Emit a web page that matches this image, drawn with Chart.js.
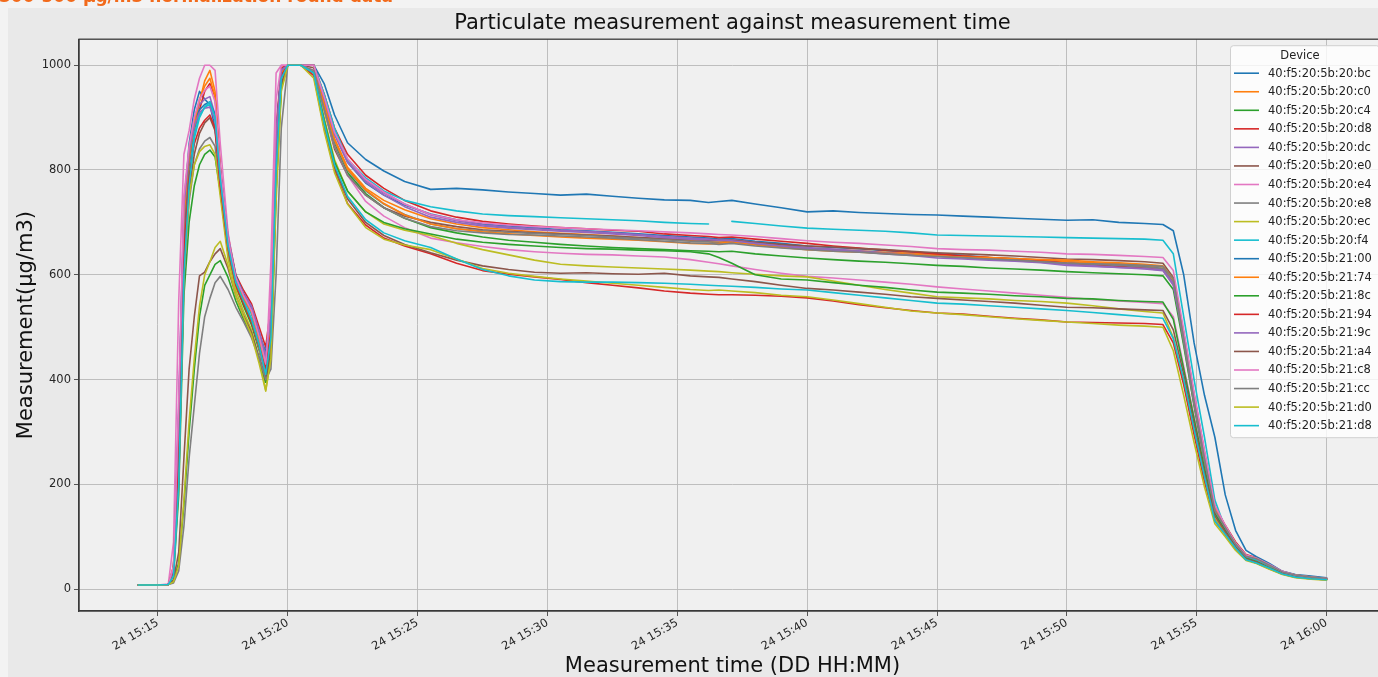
<!DOCTYPE html>
<html><head><meta charset="utf-8">
<script src="https://cdn.jsdelivr.net/npm/chart.js@4.4.1/dist/chart.umd.min.js"></script>
<style>
html,body{margin:0;padding:0;background:#f3f3f3;overflow:hidden;width:1378px;height:677px}
#wrap{position:absolute;left:0;top:0;width:1400px;height:677px}
#note{position:absolute;left:-1px;top:-12px;font:bold 17px "DejaVu Sans",sans-serif;color:#f26a1b;white-space:nowrap;line-height:17px;z-index:2}
</style></head><body>
<div id="wrap"><canvas id="c" width="1400" height="677"></canvas></div>
<div id="note">300-500 μg/m3 normalization round data</div>
<script>
// minutes after 15:00 on day 24
const times = [
14.25,15.0,15.4,15.6,15.8,16.0,16.2,16.4,16.6,16.8,
17.0,17.2,17.4,17.7,18.0,18.3,18.6,18.9,19.15,19.35,
19.55,19.75,20.0,20.5,21.0,21.4,21.8,22.3,23.0,23.7,
24.5,25.5,26.5,27.5,28.5,29.5,30.5,31.5,32.5,33.5,
34.5,35.5,36.2,36.6,37.1,38.0,39.0,40.0,41.0,42.0,
43.0,44.0,45.0,46.0,47.0,48.0,49.0,50.0,51.0,52.0,
53.0,53.7,54.1,54.5,54.9,55.3,55.7,56.1,56.5,56.9,
57.3,57.8,58.3,58.8,59.4,60.0];

const devices = ["40:f5:20:5b:20:bc","40:f5:20:5b:20:c0","40:f5:20:5b:20:c4","40:f5:20:5b:20:d8","40:f5:20:5b:20:dc",
"40:f5:20:5b:20:e0","40:f5:20:5b:20:e4","40:f5:20:5b:20:e8","40:f5:20:5b:20:ec","40:f5:20:5b:20:f4",
"40:f5:20:5b:21:00","40:f5:20:5b:21:74","40:f5:20:5b:21:8c","40:f5:20:5b:21:94","40:f5:20:5b:21:9c",
"40:f5:20:5b:21:a4","40:f5:20:5b:21:c8","40:f5:20:5b:21:cc","40:f5:20:5b:21:d0","40:f5:20:5b:21:d8"];

const d20bc = [8,8,9,35,330,720,850,915,950,935,
925,880,790,660,590,560,530,480,450,520,
870,990,1000,1000,1000,935,870,815,775,752,
733,716,705,697,693,690,686,684,681,678,
675,672,670,668,669,664,660,655,652,650,
646,643,640,637,633,631,628,625,622,619,
616,612,585,480,365,255,150,120,88,64,
58,46,33,27,23,21];
const d20c0 = [8,8,9,45,300,690,820,880,930,970,
990,950,800,650,575,545,515,465,420,490,
840,985,1000,1000,1000,930,860,805,765,742,
724,707,697,690,686,682,679,677,674,671,
668,665,663,662,664,660,655,650,648,646,
643,641,638,636,633,630,628,625,623,621,
618,615,590,475,355,250,152,118,84,62,
57,45,32,26,22,20];
const d20c4 = [8,8,9,25,180,560,700,770,810,830,
838,825,760,640,580,540,505,455,395,450,
780,960,1000,1000,1000,920,850,795,755,728,
708,690,680,672,666,662,658,655,652,650,
648,646,645,644,645,640,636,632,629,626,
624,621,618,616,613,611,609,606,604,602,
600,598,572,465,350,240,145,115,82,60,
55,44,31,25,21,19];
const d20d8 = [8,8,9,40,280,660,800,870,915,950,
965,940,810,675,600,570,545,500,462,540,
880,995,1000,1000,1000,945,880,830,790,765,
742,722,710,702,697,693,690,688,685,683,
678,675,673,671,672,668,664,660,655,651,
647,644,640,636,633,630,627,622,619,616,
613,609,582,490,372,262,158,122,90,66,
60,47,34,27,23,21];
const d20dc = [8,8,9,38,350,740,840,900,925,935,
940,905,790,665,595,565,540,490,440,510,
860,990,1000,1000,1000,940,872,820,780,756,
735,714,703,695,691,688,685,683,680,677,
673,670,668,666,667,662,657,652,649,646,
642,639,636,633,630,627,624,620,617,614,
611,608,580,478,362,252,150,119,86,63,
58,46,33,26,22,20];
const d20e0 = [8,8,9,30,240,620,760,830,870,890,
900,875,770,650,585,550,515,465,415,480,
820,980,1000,1000,995,915,840,790,752,728,
712,700,692,686,683,680,678,676,674,671,
669,667,666,665,666,662,658,655,653,650,
648,645,642,640,638,636,633,630,629,627,
625,622,595,482,360,248,148,116,84,62,
57,45,32,26,22,20];
const d20e4 = [8,8,10,90,550,830,875,935,975,1000,
1000,990,850,680,590,550,515,460,400,625,
985,1000,1000,1000,990,915,845,790,740,712,
690,670,661,654,648,644,641,639,638,636,
634,629,624,621,617,610,603,597,594,590,
586,582,577,573,569,565,561,557,553,550,
547,545,520,425,330,235,145,112,82,60,
54,42,31,25,21,19];
const d20e8 = [8,8,9,28,210,590,740,810,840,855,
862,845,760,645,580,548,512,462,405,470,
800,975,1000,1000,1000,925,855,800,760,735,
715,697,688,684,681,679,677,675,672,669,
667,664,663,661,662,658,654,650,647,644,
641,638,635,632,630,628,625,622,620,618,
615,612,585,470,352,245,147,117,85,62,
57,45,32,26,22,20];
const d20ec = [8,8,9,30,230,600,750,810,835,845,
848,830,750,630,570,530,495,440,380,440,
760,955,1000,1000,985,900,820,760,720,697,
685,675,660,648,638,628,620,617,615,613,
611,609,607,606,604,601,598,596,588,580,
572,565,558,556,554,551,549,546,541,535,
530,527,480,395,300,210,135,108,78,57,
50,39,29,23,20,18];
const d20f4 = [8,8,9,32,260,640,790,870,905,920,
925,905,795,660,590,555,525,475,430,500,
850,985,1000,1000,1000,945,880,820,785,760,
742,730,722,716,713,711,709,707,705,703,
700,698,697,null,702,698,693,689,687,685,
683,680,676,675,674,673,672,671,670,669,
668,666,640,520,400,290,170,116,85,61,
56,45,32,26,22,20];
const d2100 = [8,8,9,36,310,700,830,895,915,925,
930,905,800,670,598,562,535,488,452,520,
865,990,1000,1000,1000,965,905,852,820,798,
778,763,765,762,758,755,752,754,750,746,
743,742,738,740,742,735,728,720,722,719,
717,715,714,712,710,708,706,704,705,700,
698,696,684,600,470,370,290,180,112,74,
62,49,34,28,25,22];
const d2174 = [8,8,9,42,320,710,830,890,935,960,
975,940,795,655,585,555,530,478,425,500,
850,985,1000,1000,1000,928,858,802,762,736,
714,697,688,682,678,675,672,670,668,666,
663,660,659,660,663,657,652,648,645,643,
641,639,636,634,633,631,629,628,625,623,
620,617,592,485,368,258,155,120,87,64,
59,46,33,27,23,20];
const d218c = [8,8,9,15,50,160,300,420,520,580,
600,620,627,595,550,515,485,440,395,450,
760,960,1000,1000,985,895,815,760,720,700,
688,678,668,662,658,655,652,650,649,647,
646,644,640,633,622,600,592,590,585,580,
576,571,567,565,563,560,558,555,554,551,
549,548,515,420,325,230,145,112,80,59,
53,41,30,24,21,19];
const d2194 = [8,8,9,35,260,640,785,850,880,895,
905,880,770,650,580,545,510,462,420,490,
830,980,1000,1000,980,880,800,736,695,670,
655,640,622,608,601,596,591,585,580,575,
569,565,563,562,562,561,559,556,550,543,
537,532,527,525,521,517,514,510,509,508,
507,505,470,390,295,205,130,105,76,56,
50,39,29,23,20,18];
const d219c = [8,8,9,40,340,730,835,885,910,918,
920,895,785,662,592,562,540,492,445,515,
858,990,1000,1000,1000,938,868,815,777,752,
730,710,700,693,689,686,683,681,678,675,
671,668,667,666,665,660,655,650,647,644,
640,637,632,630,628,626,623,618,616,614,
612,609,583,480,362,252,150,118,86,63,
58,46,33,26,22,20];
const d21a4 = [8,8,9,18,70,250,420,520,598,605,
625,640,650,612,560,522,490,440,400,460,
780,965,1000,1000,985,885,805,745,700,675,
658,642,628,617,610,605,603,604,602,601,
603,598,596,595,592,587,580,574,571,567,
563,558,555,552,549,546,542,538,537,535,
533,532,495,410,315,222,140,110,80,58,
52,40,30,24,21,19];
const d21c8 = [8,8,9,44,360,750,845,900,935,952,
960,930,805,670,595,560,532,482,430,560,
935,1000,1000,1000,1000,940,872,822,782,758,
735,715,705,699,695,692,690,688,686,684,
682,680,678,677,676,673,669,665,662,660,
657,654,650,648,647,645,643,640,639,637,
635,633,608,495,375,265,160,122,88,65,
59,47,34,27,23,21];
const d21cc = [8,8,9,12,35,120,250,350,450,520,
555,585,597,572,538,510,480,440,400,420,
600,880,1000,1000,990,915,845,790,752,728,
708,692,684,680,677,676,674,672,670,667,
664,661,660,658,660,655,651,648,645,643,
640,637,635,633,630,628,625,622,621,620,
618,616,592,478,358,248,150,118,86,63,
58,46,33,27,23,21];
const d21d0 = [8,8,9,14,45,170,320,440,540,600,
625,652,664,618,560,520,485,430,378,440,
740,950,1000,1000,975,875,795,735,690,668,
657,648,630,612,603,597,592,588,584,580,
576,572,570,571,569,566,561,558,552,545,
538,531,527,524,520,516,513,510,507,504,
502,500,455,370,280,195,125,100,74,55,
49,38,28,22,19,17];
const d21d8 = [8,8,9,25,200,600,770,860,900,920,
930,900,785,655,585,550,515,465,410,480,
800,975,1000,1000,985,890,810,750,705,680,
665,652,630,610,598,590,587,586,586,585,
584,582,580,579,578,576,573,571,566,561,
556,551,546,544,541,538,535,532,528,524,
520,517,478,400,305,215,130,105,78,56,
50,40,29,23,20,18];

const seriesValues = [d20bc,d20c0,d20c4,d20d8,d20dc,d20e0,d20e4,d20e8,d20ec,d20f4,
                      d2100,d2174,d218c,d2194,d219c,d21a4,d21c8,d21cc,d21d0,d21d8];
const xTicks = [15,20,25,30,35,40,45,50,55,60];
const yTicks = [0,200,400,600,800,1000];
const palette = ['#1f77b4','#ff7f0e','#2ca02c','#d62728','#9467bd','#8c564b','#e377c2','#7f7f7f','#bcbd22','#17becf'];

const FONT = '"DejaVu Sans", sans-serif';

const datasets = devices.map((name, i) => ({
  label: name,
  data: times.map((t, k) => ({x: t, y: seriesValues[i][k]})),
  borderColor: palette[i % 10],
  backgroundColor: palette[i % 10],
  borderWidth: 1.6,
  pointRadius: 0,
  tension: 0,
  spanGaps: false,
  borderJoinStyle: 'round',
  borderCapStyle: 'round',
  order: devices.length - i
}));

function fmtTime(v){
  const tot = 15*60 + Math.round(v);
  const h = Math.floor(tot/60), m = tot % 60;
  return '24 ' + h + ':' + String(m).padStart(2,'0');
}

const framePlugin = {
  id: 'frame',
  beforeDraw(chart){
    const ctx = chart.ctx, a = chart.chartArea;
    ctx.save();
    ctx.fillStyle = '#f3f3f3'; ctx.fillRect(0,0,chart.width,chart.height);
    ctx.fillStyle = '#e9e9e9'; ctx.fillRect(8,8,chart.width,chart.height);
    ctx.fillStyle = '#f0f0f0'; ctx.fillRect(a.left,a.top,a.right-a.left,a.bottom-a.top);
    ctx.restore();
  },
  afterDatasetsDraw(chart){
    const ctx = chart.ctx, a = chart.chartArea;
    ctx.save();
    ctx.strokeStyle = '#3a3a3a'; ctx.lineWidth = 1.3;
    ctx.strokeRect(a.left, a.top, a.right-a.left, a.bottom-a.top);
    ctx.restore();
  },
  afterDraw(chart){
    const ctx = chart.ctx, a = chart.chartArea;
    const w = 149, h = 392, x0 = a.right - 7 - w, y0 = a.top + 6;
    ctx.save();
    ctx.beginPath();
    ctx.roundRect(x0 + 0.5, y0 + 0.5, w, h, 3);
    ctx.fillStyle = 'rgba(255,255,255,0.8)'; ctx.fill();
    ctx.strokeStyle = '#d0d0d0'; ctx.lineWidth = 1; ctx.stroke();
    ctx.font = '11.5px ' + FONT;
    ctx.fillStyle = '#222';
    ctx.textAlign = 'center'; ctx.textBaseline = 'middle';
    ctx.fillText('Device', x0 + 70, y0 + 11);
    ctx.textAlign = 'left';
    chart.data.datasets.forEach((ds, i) => {
      const y = y0 + 28 + i * 18.55;
      ctx.strokeStyle = ds.borderColor; ctx.lineWidth = 1.6;
      ctx.beginPath(); ctx.moveTo(x0 + 4, y); ctx.lineTo(x0 + 29, y); ctx.stroke();
      ctx.fillStyle = '#222';
      ctx.fillText(ds.label, x0 + 38, y + 0.5);
    });
    ctx.restore();
  }
};

new Chart(document.getElementById('c'), {
  type: 'line',
  data: { datasets },
  options: {
    responsive: false,
    animation: false,
    devicePixelRatio: 1,
    layout: { padding: { left: 0, right: 14, top: 0, bottom: 0 } },
    plugins: {
      legend: { display: false },
      tooltip: { enabled: false },
      title: {
        display: true, fullSize: false,
        text: 'Particulate measurement against measurement time',
        color: '#111', font: { family: FONT, size: 21, weight: 'normal', lineHeight: 1.2 },
        padding: { top: 11, bottom: 3 }
      }
    },
    scales: {
      x: {
        type: 'linear', min: 11.96, max: 62.29,
        afterBuildTicks: s => { s.ticks = xTicks.map(v => ({ value: v })); },
        afterFit: s => { s.height = 66; },
        ticks: { callback: v => fmtTime(v), color: '#262626', font: { family: FONT, size: 11.5 },
                 minRotation: 30, maxRotation: 30, autoSkip: false, padding: 0 },
        grid: { color: '#b8b8b8', lineWidth: 0.9, tickLength: 5, tickColor: '#444' },
        border: { display: true, color: '#3a3a3a', width: 1.3 },
        title: { display: true, text: 'Measurement time (DD HH:MM)', color: '#111',
                 font: { family: FONT, size: 21, lineHeight: 1.0 }, padding: { top: 0, bottom: 0 } }
      },
      y: {
        type: 'linear', min: -41.6, max: 1049.6,
        afterBuildTicks: s => { s.ticks = yTicks.map(v => ({ value: v })); },
        afterFit: s => { s.width = 79; },
        ticks: { callback: v => String(v), color: '#262626', font: { family: FONT, size: 11.5 }, padding: 3 },
        grid: { color: '#b8b8b8', lineWidth: 0.9, tickLength: 5, tickColor: '#444' },
        border: { display: true, color: '#3a3a3a', width: 1.3 },
        title: { display: true, text: 'Measurement(μg/m3)', color: '#111',
                 font: { family: FONT, size: 21, lineHeight: 1.2 }, padding: { top: 14, bottom: 0 } }
      }
    }
  },
  plugins: [framePlugin]
});
</script>
</body></html>
